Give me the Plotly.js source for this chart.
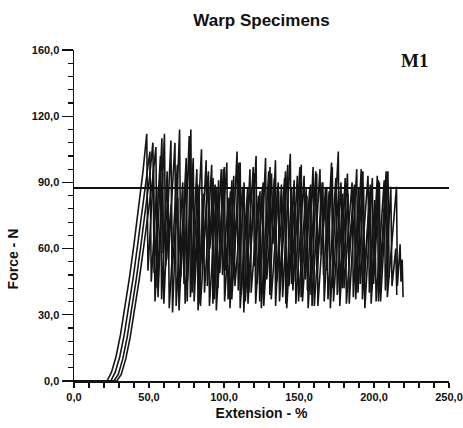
<!DOCTYPE html>
<html>
<head>
<meta charset="utf-8">
<script src="https://cdn.plot.ly/plotly-3.0.1.min.js"></script>
<style>html,body{margin:0;padding:0;background:#fff;}#chart{width:463px;height:428px;}</style>
</head>
<body>
<div id="chart"></div>
<script>
// Axis ticks
const xTickVals = [0, 50, 100, 150, 200, 250];
const xTickText = ["0,0", "50,0", "100,0", "150,0", "200,0", "250,0"];
const yTickVals = [0, 30, 60, 90, 120, 150];
const yTickText = ["0,0", "30,0", "60,0", "90,0", "120,0", "160,0"];

// Reference force line
const refX = [0, 250];
const refY = [87.5, 87.5];

// Specimen 1
const s1x = [0,22,25,28,31,34,37,40,43,46,48.5,
  49.3,53.1,54,58.6,59.4,62.8,63.5,68.9,69.7,73.2,74.1,79.5,80.2,83.4,84.3,89.6,90.5,94.1,94.9,100.2,
  101,104.3,105.2,110.8,111.5,115.1,116,121.4,122.1,125.6,126.5,131.7,132.6,136.2,137,142.5,143.3,147.1,147.9,153.4,
  154.2,157.8,158.7,164,164.8,168.5,169.3,174.6,175.5,179.2,180,185.4,186.2,189.9,190.8,196,196.9,200.5,201.4,206.8,
  207.6,211.2,212,214.5,215.2];
const s1y = [0,0,4,11,21,33,47,62,78,95,112,
  50,96,36,110,58,84,33,98,40,79,35,101,46,87,34,95,60,89,32,97,
  50,86,37,99,39,76,35,102,44,88,34,94,62,90,36,98,43,81,35,93,
  46,89,34,96,57,88,37,92,39,85,42,90,38,87,44,93,40,82,36,91,
  41,88,43,60,39];

// Specimen 2
const s2x = [0,24.5,27.5,30.5,33.5,36.5,39.5,42.5,45.5,48.5,50.6,
  51.5,55.2,56,60.3,61.1,64.9,65.7,70.4,71.2,74.6,75.5,77.9,78.7,82.5,83.3,88.1,88.9,92.7,93.5,98.2,
  99,103.1,104,108.7,109.5,113.4,114.2,119.5,120.3,124,124.9,129.8,130.6,134.3,135.2,140.4,141.2,145.1,145.9,150.6,
  151.4,155.3,156.1,161.2,162,165.9,166.8,171.7,172.5,176.4,177.2,182.3,183.1,187,187.8,192.6,193.4,197.3,198.1,203,
  203.8,208.4,209.2];
const s2y = [0,0,4,11,21,33,47,62,78,95,104,
  45,88,38,112,52,80,31,114,47,93,36,114,40,89,35,100,43,92,37,96,
  48,83,33,104,41,90,36,97,52,86,33,95,39,100,45,92,35,87,41,97,
  38,84,33,95,47,90,36,99,42,86,34,94,58,89,37,95,43,84,35,91,
  40,92,45];

// Specimen 3
const s3x = [0,26.5,29.5,32.5,35.5,38.5,41.5,44.5,47.5,50.5,52.6,
  53.4,57.6,58.4,62.1,62.9,67.3,68.1,72.5,73.3,76.8,77.6,81.9,82.7,86.2,87,91.8,92.6,96.4,97.2,101.9,
  102.7,106.5,107.3,112.4,113.2,117.3,118.1,123,123.8,127.7,128.5,133.6,134.4,138.3,139.1,144.2,145,148.9,149.7,154.8,
  155.6,159.4,160.2,165.5,166.3,170.1,170.9,176.2,177,180.8,181.6,186.9,187.7,191.5,192.3,197.6,198.4,202.2,203,208.1,
  208.9,215,215.6,217.4,218,218.8,219.4];
const s3y = [0,0,3,10,20,32,46,61,77,93,108,
  49,102,37,95,55,108,34,90,44,111,38,96,32,85,40,98,35,91,49,99,
  37,93,43,88,31,96,40,84,36,101,46,92,34,89,38,103,44,93,36,87,
  41,97,34,90,48,86,33,104,40,92,35,88,45,96,37,89,41,93,36,95,
  38,88,43,62,45,55,38];

// Specimen 4
const s4x = [0,28.5,31.5,34.5,37.5,40.5,43.5,46.5,49.5,52.5,54.6,
  55.4,59.1,59.9,64.6,65.4,69.2,70,74.8,75.6,79.3,80.1,85,85.8,89.5,90.3,95.1,95.9,99.6,100.4,105.3,
  106.1,110,110.8,115.7,116.5,120.3,121.1,126.1,126.9,130.7,131.5,136.4,137.2,141,141.8,146.8,147.6,151.5,152.3,157.2,
  158,161.8,162.6,167.6,168.4,172.2,173,178,178.8,182.7,183.5,188.5,189.3,193.1,193.9,198.9,199.7,203.6,204.4,209.3,
  210.1];
const s4y = [0,0,3,10,20,32,46,61,77,92,106,
  42,94,35,109,50,83,32,101,45,90,36,105,53,93,34,88,42,96,36,91,
  47,99,33,87,40,94,35,90,44,97,37,86,42,95,33,91,45,98,36,88,
  39,94,34,87,50,97,36,90,42,85,35,96,40,88,33,92,44,90,36,95,
  47];

const lineStyle = {color: '#151515', width: 1.6};
const series = [[s1x, s1y], [s2x, s2y], [s3x, s3y], [s4x, s4y]];
const traces = series.map(function (s, i) {
  return {x: s[0], y: s[1], type: 'scatter', mode: 'lines', name: 'Specimen ' + (i + 1),
          line: lineStyle, hoverinfo: 'x+y'};
});
traces.push({x: refX, y: refY, type: 'scatter', mode: 'lines', name: 'Reference',
             line: {color: '#111', width: 2}, hoverinfo: 'y'});

const fontFam = '"Liberation Sans", Arial, Helvetica, sans-serif';
const layout = {
  width: 463, height: 428,
  margin: {l: 74, r: 14, t: 50, b: 47},
  paper_bgcolor: '#fff', plot_bgcolor: '#fff',
  showlegend: false,
  font: {family: fontFam, color: '#111'},
  title: {text: 'Warp Specimens', x: 0.5, xref: 'paper', xanchor: 'center',
          y: 0.952, yref: 'container', yanchor: 'middle',
          font: {family: fontFam, size: 17, weight: 'bold', color: '#111'}},
  xaxis: {
    range: [0, 250], tickmode: 'array', tickvals: xTickVals, ticktext: xTickText,
    showline: true, linecolor: '#111', linewidth: 1.5, mirror: false,
    ticks: 'outside', ticklen: 5, tickwidth: 1.3, tickcolor: '#111',
    minor: {dtick: 10, tick0: 0, ticks: 'outside', ticklen: 5, tickwidth: 1.2, tickcolor: '#111', showgrid: false},
    showgrid: false, zeroline: false,
    tickfont: {family: fontFam, size: 11, weight: 'bold', color: '#111'},
    title: {text: 'Extension - %', standoff: 6, font: {family: fontFam, size: 14, weight: 'bold', color: '#111'}}
  },
  yaxis: {
    range: [0, 150], tickmode: 'array', tickvals: yTickVals, ticktext: yTickText,
    showline: true, linecolor: '#111', linewidth: 1.5, mirror: false,
    ticks: 'outside', ticklen: 11, tickwidth: 1.3, tickcolor: '#111',
    minor: {dtick: 6, tick0: 0, ticks: 'outside', ticklen: 5, tickwidth: 1.2, tickcolor: '#111', showgrid: false},
    showgrid: false, zeroline: false,
    tickfont: {family: fontFam, size: 11, weight: 'bold', color: '#111'}
  },
  annotations: [
    {text: 'M1', x: 227.3, y: 145.4, xref: 'x', yref: 'y', showarrow: false,
     xanchor: 'center', yanchor: 'middle',
     font: {family: '"Liberation Serif", "DejaVu Serif", serif', size: 19, weight: 'bold', color: '#111'}},
    {text: 'Force - N', x: -0.163, y: 0.37, xref: 'paper', yref: 'paper', showarrow: false,
     textangle: -90, xanchor: 'center', yanchor: 'middle',
     font: {family: fontFam, size: 14, weight: 'bold', color: '#111'}}
  ]
};

Plotly.newPlot('chart', traces, layout, {staticPlot: true, displayModeBar: false});
</script>
</body>
</html>
